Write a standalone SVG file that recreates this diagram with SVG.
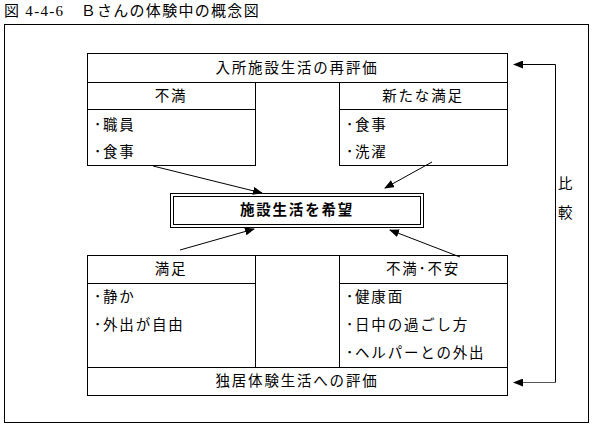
<svg xmlns="http://www.w3.org/2000/svg" width="595" height="428" viewBox="0 0 595 428">
<defs>
<marker id="ah" markerWidth="10" markerHeight="8" refX="9" refY="4" orient="auto" markerUnits="userSpaceOnUse">
<path d="M0,0 L10,4 L0,8 Z" fill="#000"/>
</marker>
<style>
.t{font-family:"Liberation Sans","Noto Sans CJK JP",sans-serif;font-size:14.5px;fill:#000;letter-spacing:1.8px}
.c{text-anchor:middle}
.b{fill:none;stroke:#000;stroke-width:1}
.ln{stroke:#000;stroke-width:1;fill:none}
</style>
</defs>
<rect width="595" height="428" fill="#fff"/>
<text x="4" y="16" style="font-family:'Liberation Serif','Noto Sans CJK JP',serif;font-size:15px;letter-spacing:1.3px">図 4-4-6　Ｂさんの体験中の概念図</text>
<rect class="b" x="4.5" y="24.5" width="584" height="398"/>

<g id="top-eval">
<rect class="b" x="87.5" y="53.5" width="420" height="29"/>
<text class="t c" x="297" y="73">入所施設生活の再評価</text>
</g>
<g id="top-fuman">
<rect class="b" x="87.5" y="82.5" width="168" height="27"/>
<rect class="b" x="87.5" y="109.5" width="168" height="56"/>
<text class="t c" x="171" y="101">不満</text>
<text class="t" x="94" y="130">･職員</text>
<text class="t" x="94" y="157">･食事</text>
</g>
<g id="top-manzoku">
<rect class="b" x="339.5" y="82.5" width="168" height="27"/>
<rect class="b" x="339.5" y="109.5" width="168" height="56"/>
<text class="t c" x="423" y="101">新たな満足</text>
<text class="t" x="346" y="130">･食事</text>
<text class="t" x="346" y="157">･洗濯</text>
</g>
<g id="center">
<rect class="b" x="170.5" y="193.5" width="253" height="34"/>
<rect class="b" x="173.5" y="196.5" width="247" height="28"/>
<text class="t c" x="297" y="215" style="font-weight:bold">施設生活を希望</text>
</g>
<g id="bottom-manzoku">
<rect class="b" x="87.5" y="255.5" width="168" height="28"/>
<rect class="b" x="87.5" y="283.5" width="168" height="84"/>
<text class="t c" x="171" y="274">満足</text>
<text class="t" x="94" y="302">･静か</text>
<text class="t" x="94" y="330">･外出が自由</text>
</g>
<g id="bottom-middle">
<line class="ln" x1="255.5" y1="255.5" x2="339.5" y2="255.5"/>
</g>
<g id="bottom-fuan">
<rect class="b" x="339.5" y="255.5" width="168" height="28"/>
<rect class="b" x="339.5" y="283.5" width="168" height="84"/>
<text class="t c" x="423" y="274">不満･不安</text>
<text class="t" x="346" y="302">･健康面</text>
<text class="t" x="346" y="330">･日中の過ごし方</text>
<text class="t" x="346" y="358">･ヘルパーとの外出</text>
</g>
<g id="bottom-eval">
<rect class="b" x="87.5" y="367.5" width="420" height="28"/>
<text class="t c" x="297" y="386">独居体験生活への評価</text>
</g>
<g id="compare">
<text class="t" x="558" y="189">比</text>
<text class="t" x="558" y="218">較</text>
</g>
<g id="connectors">
<line class="ln" x1="153" y1="166" x2="262" y2="193" marker-end="url(#ah)"/>
<line class="ln" x1="432" y1="162" x2="385" y2="188" marker-end="url(#ah)"/>
<line class="ln" x1="180" y1="250" x2="254" y2="229" marker-end="url(#ah)"/>
<line class="ln" x1="460" y1="257" x2="390" y2="230" marker-end="url(#ah)"/>
<polyline class="ln" points="555.5,64.5 555.5,382.5"/>
<line class="ln" x1="555.5" y1="64.5" x2="514" y2="64.5" marker-end="url(#ah)"/>
<line class="ln" x1="555.5" y1="382.5" x2="514" y2="382.5" marker-end="url(#ah)" style="stroke:#555"/>
</g>
</svg>
